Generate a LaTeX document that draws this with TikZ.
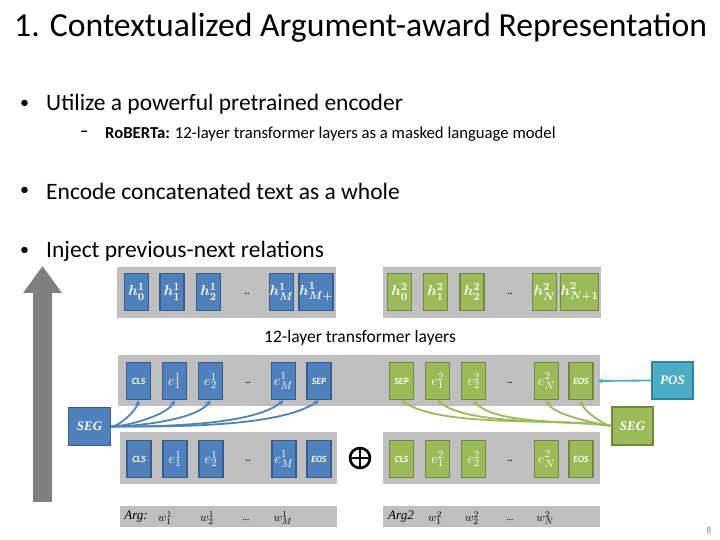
\documentclass[tikz,border=0pt]{standalone}
\usepackage{fontspec}
\setmainfont{Carlito}
\newfontfamily\argfont{Liberation Serif}
\usetikzlibrary{arrows.meta}
\definecolor{boxblue}{HTML}{4F81BD}
\definecolor{boxblueD}{HTML}{385D8A}
\definecolor{boxgreen}{HTML}{9BBB59}
\definecolor{boxgreenD}{HTML}{71893F}
\definecolor{boxteal}{HTML}{4BACC6}
\definecolor{boxtealD}{HTML}{31849B}
\definecolor{bandgray}{HTML}{BFBFBF}
\definecolor{arrowgray}{HTML}{7F7F7F}
\tikzset{
  tok/.style={rectangle, minimum width=24pt, minimum height=37pt, inner sep=0pt, line width=1.6pt, text=white},
  bluetok/.style={tok, fill=boxblue, draw=boxblueD},
  greentok/.style={tok, fill=boxgreen, draw=boxgreenD},
  special/.style={font=\fontsize{9.5}{9.5}\selectfont\bfseries\itshape},
  hid/.style={font=\boldmath\fontsize{15}{15}\selectfont},
  emb/.style={font=\fontsize{15}{15}\selectfont},
  seglabel/.style={tok, minimum width=42pt, minimum height=38pt, font=\argfont\fontsize{13}{13}\selectfont\bfseries\itshape},
  gap/.style={font=\fontsize{9}{9}\selectfont\bfseries},
  argtext/.style={font=\argfont\fontsize{13}{13}\selectfont, inner sep=0pt},
  bluelink/.style={draw=boxblue, line width=1.8pt, -{Stealth[length=5pt,width=5pt]}},
  greenlink/.style={draw=boxgreen, line width=1.8pt, -{Stealth[length=5pt,width=5pt]}},
  bullet/.style={anchor=west, inner sep=0pt, font=\fontsize{23.5}{23.5}\selectfont},
  subbullet/.style={anchor=west, inner sep=0pt, font=\fontsize{16.7}{16.7}\selectfont},
}
\begin{document}
\begin{tikzpicture}[x=1pt, y=1pt]
  \useasboundingbox (0,0) rectangle (720,540);
  % slide text
  \node[anchor=west, inner sep=0pt, font=\fontsize{33.7}{33.7}\selectfont] (title) at (14,512) {1. Contextualized Argument-award Representation};
  \node[bullet, font=\fontsize{18}{18}\selectfont] (dot_a) at (20,436) {•};
  \node[bullet] (utilize) at (46,436) {Utilize a powerful pretrained encoder};
  \node[subbullet] (dash_a) at (80,406) {\textbf{–}};
  \node[subbullet] (roberta) at (105,406) {\textbf{RoBERTa:} 12-layer transformer layers as a masked language model};
  \node[bullet, font=\fontsize{18}{18}\selectfont] (dot_b) at (20,349) {•};
  \node[bullet] (encode) at (46,349) {Encode concatenated text as a whole};
  \node[bullet, font=\fontsize{18}{18}\selectfont] (dot_c) at (20,289) {•};
  \node[bullet] (inject) at (46,289) {Inject previous-next relations};
  % big upward arrow
  \coordinate (arrow_base) at (42.5,38);
  \coordinate (arrow_tip) at (42.5,274);
  \draw[arrowgray, line width=19pt, -{Triangle[width=37pt, length=27pt]}] (arrow_base) -- (arrow_tip);
  % grey bands
  \fill[bandgray] (117,273) rectangle (336,222);
  \fill[bandgray] (383,273) rectangle (601,222);
  \fill[bandgray] (118,185) rectangle (600,134);
  \fill[bandgray] (120,108) rectangle (337,56);
  \fill[bandgray] (383,108) rectangle (600,56);
  \fill[bandgray] (120,34) rectangle (337,13);
  \fill[bandgray] (383,34) rectangle (600,13);
  % top row
  \node[bluetok, hid] (h1_0) at (136.5,248) {$h^1_0$};
  \node[bluetok, hid] (h1_1) at (172,248) {$h^1_1$};
  \node[bluetok, hid] (h1_2) at (208.5,248) {$h^1_2$};
  \node[gap] (h1_dots) at (247,246) {..};
  \node[bluetok, hid] (h1_M) at (281.5,248) {$h^1_M$};
  \node[bluetok, hid] (h1_M1) at (316,248) {$h^1_{M+}$};
  \node[greentok, hid] (h2_0) at (399.5,248) {$h^2_0$};
  \node[greentok, hid] (h2_1) at (435.5,248) {$h^2_1$};
  \node[greentok, hid] (h2_2) at (472,248) {$h^2_2$};
  \node[gap] (h2_dots) at (510,246) {..};
  \node[greentok, hid] (h2_N) at (544.5,248) {$h^2_N$};
  \node[greentok, hid] (h2_N1) at (579.5,248) {$h^2_{N+1}$};
  \node[font=\fontsize{17.5}{17.5}\selectfont] (layers) at (360,202) {12-layer transformer layers};
  % middle row
  \node[bluetok, special] (cls_a) at (138.5,159) {CLS};
  \node[bluetok, emb] (e1_1) at (174.5,159) {$e^1_1$};
  \node[bluetok, emb] (e1_2) at (210.5,159) {$e^1_2$};
  \node[gap] (e1_dots) at (248,157) {..};
  \node[bluetok, emb] (e1_M) at (283.5,159) {$e^1_M$};
  \node[bluetok, special] (sep_a) at (319,159) {SEP};
  \node[greentok, special] (sep_b) at (401.5,159) {SEP};
  \node[greentok, emb] (e2_1) at (437.5,159) {$e^2_1$};
  \node[greentok, emb] (e2_2) at (473.5,159) {$e^2_2$};
  \node[gap] (e2_dots) at (510,157) {..};
  \node[greentok, emb] (e2_N) at (546.5,159) {$e^2_N$};
  \node[greentok, special] (eos_b) at (581,159) {EOS};
  % segment and position embeddings
  \node[seglabel, fill=boxblue, draw=boxblueD] (seg_a) at (89.5,113.5) {SEG};
  \node[seglabel, fill=boxgreen, draw=boxgreenD, minimum width=41pt] (seg_b) at (632.5,114) {SEG};
  \node[seglabel, fill=boxteal, draw=boxtealD, minimum width=41pt, minimum height=37pt] (pos) at (672.5,159.5) {POS};
  \draw[boxteal, line width=1.8pt, -{Stealth[length=5pt,width=5pt]}, shorten >=4pt] (pos.west) -- (eos_b.east);
  \foreach \tgt/\ang in {cls_a/-100, e1_1/-115, e1_2/-125, e1_M/-140, sep_a/-145}
    \draw[bluelink] (seg_a.east) to[out=0, in=\ang, looseness=0.6] (\tgt.south);
  \foreach \tgt/\ang in {eos_b/-80, e2_N/-65, e2_2/-50, e2_1/-40, sep_b/-35}
    \draw[greenlink] (seg_b.west) to[out=170, in=\ang, looseness=0.6] (\tgt.south);
  % bottom row
  \node[bluetok, special] (cls_c) at (139,81) {CLS};
  \node[bluetok, emb] (e3_1) at (175,81) {$e^1_1$};
  \node[bluetok, emb] (e3_2) at (211,81) {$e^1_2$};
  \node[gap] (e3_dots) at (248,79) {..};
  \node[bluetok, emb] (e3_M) at (284,81) {$e^1_M$};
  \node[bluetok, special] (eos_c) at (319,81) {EOS};
  \node[circle, draw, line width=2.6pt, minimum size=20pt, inner sep=0pt,
        path picture={\draw[line width=2.6pt] (path picture bounding box.north) -- (path picture bounding box.south)
                      (path picture bounding box.west) -- (path picture bounding box.east);}] (concat) at (360,82) {};
  \node[greentok, special] (cls_d) at (401.5,81) {CLS};
  \node[greentok, emb] (e4_1) at (437.5,81) {$e^2_1$};
  \node[greentok, emb] (e4_2) at (473.5,81) {$e^2_2$};
  \node[gap] (e4_dots) at (510,79) {..};
  \node[greentok, emb] (e4_N) at (546.5,81) {$e^2_N$};
  \node[greentok, special] (eos_d) at (581,81) {EOS};
  % argument words
  \node[argtext] (arg_a) at (136,23) {\itshape Arg:};
  \node[argtext] (w1_1) at (165,22) {$w^1_1$};
  \node[argtext] (w1_2) at (207,22) {$w^1_2$};
  \node[argtext, font=\fontsize{9}{9}\selectfont] (w1_dots) at (246,20) {...};
  \node[argtext] (w1_M) at (283,22) {$w^1_M$};
  \node[argtext] (arg_b) at (401,23) {\itshape Arg2};
  \node[argtext] (w2_1) at (435,22) {$w^2_1$};
  \node[argtext] (w2_2) at (472,22) {$w^2_2$};
  \node[argtext, font=\fontsize{9}{9}\selectfont] (w2_dots) at (510,20) {...};
  \node[argtext] (w2_N) at (545,22) {$w^2_N$};
  \node[text=gray, font=\fontsize{9}{9}\selectfont] (page) at (709,10) {8};
\end{tikzpicture}
\end{document}
